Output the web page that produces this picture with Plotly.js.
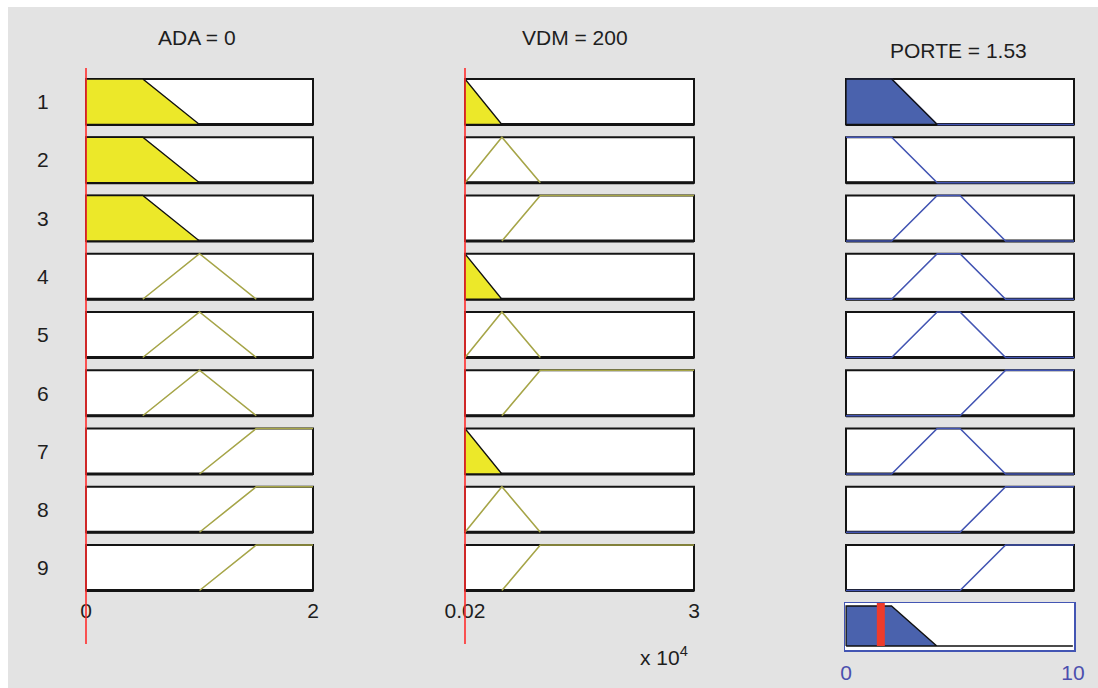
<!DOCTYPE html>
<html><head><meta charset="utf-8">
<script src="https://cdn.plot.ly/plotly-3.0.1.min.js"></script>
<style>html,body{margin:0;padding:0;background:#fff;}</style>
</head><body><div id="chart" style="width:1098px;height:688px;"></div>
<script>
// ---------------- data ----------------
const inputNames = ['ADA', 'VDM'];
const outputName = 'PORTE';
const adaRange = [0, 2];
const vdmRange = [200, 30000];
const porteRange = [0, 10];
// membership functions (trapezoid a,b,c,d)
const adaLow = [0, 0, 0.5, 1];
const adaMed = [0.5, 1, 1, 1.5];
const adaHigh = [1, 1.5, 2, 2];
const vdmLow = [200, 200, 200, 5000];
const vdmMed = [200, 5000, 5000, 10000];
const vdmHigh = [5000, 10000, 30000, 30000];
const porteLow = [0, 0, 2, 4];
const porteMed = [2, 4, 5, 7];
const porteHigh = [5, 7, 10, 10];
// rules
const ruleLabels = ['1', '2', '3', '4', '5', '6', '7', '8', '9'];
const ruleAda = ['low', 'low', 'low', 'med', 'med', 'med', 'high', 'high', 'high'];
const ruleVdm = ['low', 'med', 'high', 'low', 'med', 'high', 'low', 'med', 'high'];
const rulePorte = ['low', 'low', 'med', 'med', 'med', 'high', 'med', 'high', 'high'];
// current values
const adaValue = 0;
const vdmValue = 200;
const porteValue = 1.53;
// tick labels
const adaTickVals = [0, 2], adaTickText = ['0', '2'];
const vdmTickVals = [200, 30000], vdmTickText = ['0.02', '3'];
const porteTickVals = [0, 10], porteTickText = ['0', '10'];
const vdmExponentLabel = 'x 10<sup>4</sup>';

// ---------------- geometry / style ----------------
const W = 1098, H = 688;
const colFrames = [[86, 313], [465, 694], [846, 1074]];
const rowTop0 = 79, rowStep = 58.25, rowH = 45.5;
const padX = 0.015, padY = 0.06;
const aggTop = 603, aggBottom = 650, aggYRange = [-0.1, 1.075];
const redTop = 68, redBottom = 644;
const FONT = 'Liberation Sans, Arial, Helvetica, sans-serif';
const BG = '#e3e3e3';
const YELLOW = '#ece829', OLIVE = '#a6a548';
const BLUEFILL = '#4a62ad', BLUELINE = '#4355b3';
const RED = '#ff2d2d', REDBAR = '#ee3b2b';
const TXT = '#1e1e1e', TICKBLUE = '#4b4fae';

const adaSets = {low: adaLow, med: adaMed, high: adaHigh};
const vdmSets = {low: vdmLow, med: vdmMed, high: vdmHigh};
const porteSets = {low: porteLow, med: porteMed, high: porteHigh};

function mfVal(p, x) {
  const [a, b, c, d] = p;
  if (x < a || x > d) return 0;
  if (x < b) return (x - a) / (b - a);
  if (x <= c) return 1;
  return (d - x) / (d - c);
}
function breakpoints(p, range) {
  const set = [range[0], range[1]].concat(p.filter(v => v >= range[0] && v <= range[1]));
  const xs = Array.from(new Set(set)).sort((a, b) => a - b);
  return {xs, ys: xs.map(x => mfVal(p, x))};
}
function clipAt(xs, ys, lvl) {
  const ox = [], oy = [];
  for (let i = 0; i < xs.length; i++) {
    ox.push(xs[i]); oy.push(Math.min(ys[i], lvl));
    if (i < xs.length - 1 && (ys[i] - lvl) * (ys[i + 1] - lvl) < 0) {
      const t = (lvl - ys[i]) / (ys[i + 1] - ys[i]);
      ox.push(xs[i] + t * (xs[i + 1] - xs[i])); oy.push(lvl);
    }
  }
  return {xs: ox, ys: oy};
}
function trimZeros(xs, ys) {
  let f = ys.findIndex(v => v > 0), l = -1;
  for (let i = ys.length - 1; i >= 0; i--) if (ys[i] > 0) { l = i; break; }
  if (f < 0) return {xs: [], ys: []};
  const s = Math.max(0, f - 1), e = Math.min(ys.length - 1, l + 1);
  return {xs: xs.slice(s, e + 1), ys: ys.slice(s, e + 1)};
}
function polygon(xs, ys) {
  const px = [xs[0]].concat(xs, [xs[xs.length - 1], xs[0]]);
  const py = [0].concat(ys, [0, 0]);
  return {x: px, y: py};
}

const layout = {
  width: W, height: H, margin: {l: 0, r: 0, t: 0, b: 0},
  paper_bgcolor: '#ffffff', plot_bgcolor: 'rgba(0,0,0,0)',
  showlegend: false, font: {family: FONT, color: TXT}
};
const traces = [];
const shapes = [{type: 'rect', xref: 'paper', yref: 'paper', x0: 8 / W, x1: 1, y0: 0, y1: 1 - 7 / H,
  fillcolor: BG, line: {width: 0}, layer: 'below'}];
const annotations = [];

let axN = 0;
function newAxes(xDomPx, xRange, yDomPx, yRange, xExtra, yExtra) {
  axN++;
  const xk = axN === 1 ? 'xaxis' : 'xaxis' + axN, yk = axN === 1 ? 'yaxis' : 'yaxis' + axN;
  const xr = axN === 1 ? 'x' : 'x' + axN, yr = axN === 1 ? 'y' : 'y' + axN;
  const base = {showgrid: false, zeroline: false, showticklabels: false, ticks: '', showline: false, fixedrange: true};
  layout[xk] = Object.assign({}, base, {domain: [xDomPx[0] / W, xDomPx[1] / W], range: xRange, anchor: yr}, xExtra || {});
  layout[yk] = Object.assign({}, base, {domain: [1 - yDomPx[1] / H, 1 - yDomPx[0] / H], range: yRange, anchor: xr}, yExtra || {});
  return {x: xr, y: yr};
}
function colGeom(c, range) {
  const [L, R] = colFrames[c], w = R - L, span = range[1] - range[0];
  return {dom: [L - padX * w, R + padX * w], rng: [range[0] - padX * span, range[1] + padX * span]};
}
function rowGeom(r) {
  const T = rowTop0 + r * rowStep, B = T + rowH;
  return {dom: [T - padY * rowH, B + padY * rowH], rng: [-padY, 1 + padY], mid: (T + B) / 2};
}
function frame(ax, range) {
  shapes.push({type: 'rect', xref: ax.x, yref: ax.y, x0: range[0], x1: range[1], y0: 0, y1: 1,
    fillcolor: '#ffffff', line: {color: '#141414', width: 2}, layer: 'below'});
  shapes.push({type: 'line', xref: ax.x, yref: ax.y, x0: range[0], x1: range[1], y0: 0, y1: 0,
    line: {color: '#141414', width: 3}, layer: 'below'});
}

const inputs = [
  {range: adaRange, sets: adaSets, rule: ruleAda, value: adaValue, tv: adaTickVals, tt: adaTickText},
  {range: vdmRange, sets: vdmSets, rule: ruleVdm, value: vdmValue, tv: vdmTickVals, tt: vdmTickText}
];
const firing = ruleLabels.map((_, r) =>
  Math.min(mfVal(adaSets[ruleAda[r]], adaValue), mfVal(vdmSets[ruleVdm[r]], vdmValue)));

// input columns
inputs.forEach((inp, c) => {
  const cg = colGeom(c, inp.range);
  for (let r = 0; r < ruleLabels.length; r++) {
    const rg = rowGeom(r);
    const last = r === ruleLabels.length - 1;
    const xExtra = last ? {showticklabels: true, tickvals: inp.tv, ticktext: inp.tt,
      tickfont: {family: FONT, size: 21, color: TXT}, ticklabelstandoff: 3} : {};
    const ax = newAxes(cg.dom, cg.rng, rg.dom, rg.rng, xExtra);
    frame(ax, inp.range);
    const p = inp.sets[inp.rule[r]];
    const mu = mfVal(p, inp.value);
    const bp = breakpoints(p, inp.range);
    if (mu > 0) {
      const cl0 = clipAt(bp.xs, bp.ys, mu);
      const cl = trimZeros(cl0.xs, cl0.ys);
      const pg = polygon(cl.xs, cl.ys);
      traces.push({type: 'scatter', mode: 'lines', xaxis: ax.x, yaxis: ax.y, x: pg.x, y: pg.y,
        fill: 'toself', fillcolor: YELLOW, line: {color: '#111', width: 1.3}, hoverinfo: 'skip'});
    } else {
      const tr = trimZeros(bp.xs, bp.ys);
      traces.push({type: 'scatter', mode: 'lines', xaxis: ax.x, yaxis: ax.y, x: tr.xs, y: tr.ys,
        line: {color: OLIVE, width: 1.6}, hoverinfo: 'skip'});
    }
  }
});

// output column
const cgO = colGeom(2, porteRange);
let aggX = [porteRange[0], porteRange[1]];
for (let r = 0; r < ruleLabels.length; r++) {
  const rg = rowGeom(r);
  const ax = newAxes(cgO.dom, cgO.rng, rg.dom, rg.rng);
  frame(ax, porteRange);
  const p = porteSets[rulePorte[r]];
  const bp = breakpoints(p, porteRange);
  aggX = aggX.concat(bp.xs);
  traces.push({type: 'scatter', mode: 'lines', xaxis: ax.x, yaxis: ax.y, x: bp.xs, y: bp.ys,
    line: {color: BLUELINE, width: 1.6}, hoverinfo: 'skip'});
  if (firing[r] > 0) {
    const cl = clipAt(bp.xs, bp.ys, firing[r]);
    aggX = aggX.concat(cl.xs);
    const tr = trimZeros(cl.xs, cl.ys);
    const pg = polygon(tr.xs, tr.ys);
    traces.push({type: 'scatter', mode: 'lines', xaxis: ax.x, yaxis: ax.y, x: pg.x, y: pg.y,
      fill: 'toself', fillcolor: BLUEFILL, line: {color: '#111', width: 1.3}, hoverinfo: 'skip'});
  }
}
// aggregated output
{
  const span = porteRange[1] - porteRange[0];
  const axAgg = newAxes([colFrames[2][0] - 1, colFrames[2][1]], [porteRange[0] - 0.005 * span, porteRange[1] + 0.005 * span],
    [aggTop, aggBottom], aggYRange,
    {showticklabels: true, tickvals: porteTickVals, ticktext: porteTickText,
      tickfont: {family: FONT, size: 21, color: TICKBLUE}, ticklabelstandoff: 3,
      showline: true, mirror: true, linecolor: BLUELINE, linewidth: 1.5},
    {showline: true, mirror: true, linecolor: BLUELINE, linewidth: 1.5});
  shapes.push({type: 'rect', xref: axAgg.x, yref: axAgg.y, x0: porteRange[0] - 0.005 * span, x1: porteRange[1] + 0.005 * span,
    y0: aggYRange[0], y1: aggYRange[1], fillcolor: '#ffffff', line: {width: 0}, layer: 'below'});
  const xs = Array.from(new Set(aggX)).sort((a, b) => a - b);
  const ys = xs.map(x => Math.max(0, ...ruleLabels.map((_, r) => Math.min(mfVal(porteSets[rulePorte[r]], x), firing[r]))));
  const pg = polygon(xs, ys);
  traces.push({type: 'scatter', mode: 'lines', xaxis: axAgg.x, yaxis: axAgg.y, x: pg.x, y: pg.y,
    fill: 'toself', fillcolor: BLUEFILL, line: {color: '#111', width: 1.3}, hoverinfo: 'skip'});
  traces.push({type: 'scatter', mode: 'lines', xaxis: axAgg.x, yaxis: axAgg.y, x: [porteValue, porteValue], y: [0, aggYRange[1]],
    line: {color: REDBAR, width: 8}, hoverinfo: 'skip'});
}
// red input lines
inputs.forEach((inp, c) => {
  const cg = colGeom(c, inp.range);
  const ax = newAxes(cg.dom, cg.rng, [redTop, redBottom], [0, 1], {visible: false}, {visible: false});
  traces.push({type: 'scatter', mode: 'lines', xaxis: ax.x, yaxis: ax.y, x: [inp.value, inp.value], y: [0, 1],
    line: {color: RED, width: 1.6}, hoverinfo: 'skip'});
});

// titles and labels
const titleFont = {family: FONT, size: 21, color: TXT};
annotations.push({xref: 'paper', yref: 'paper', x: 197 / W, y: 1 - 38 / H, text: inputNames[0] + ' = ' + adaValue,
  showarrow: false, font: titleFont, xanchor: 'center', yanchor: 'middle'});
annotations.push({xref: 'paper', yref: 'paper', x: 575 / W, y: 1 - 38 / H, text: inputNames[1] + ' = ' + vdmValue,
  showarrow: false, font: titleFont, xanchor: 'center', yanchor: 'middle'});
annotations.push({xref: 'paper', yref: 'paper', x: 958 / W, y: 1 - 50 / H, text: outputName + ' = ' + porteValue,
  showarrow: false, font: titleFont, xanchor: 'center', yanchor: 'middle'});
ruleLabels.forEach((lab, r) => {
  annotations.push({xref: 'paper', yref: 'paper', x: 43 / W, y: 1 - rowGeom(r).mid / H, text: lab,
    showarrow: false, font: titleFont, xanchor: 'center', yanchor: 'middle'});
});
annotations.push({xref: 'paper', yref: 'paper', x: 638 / W, y: 1 - 656 / H, text: vdmExponentLabel,
  showarrow: false, font: titleFont, xanchor: 'left', yanchor: 'middle'});

layout.shapes = shapes;
layout.annotations = annotations;
Plotly.newPlot('chart', traces, layout, {staticPlot: true, displayModeBar: false});
</script>
</body></html>
